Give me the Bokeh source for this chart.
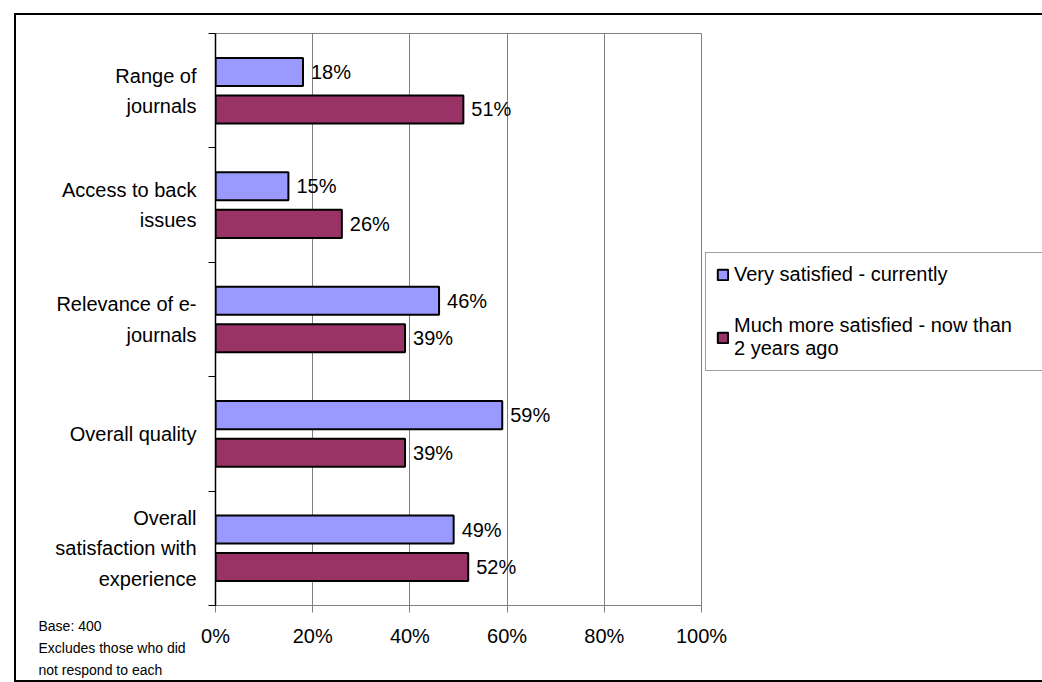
from bokeh.plotting import figure
from bokeh.models import (Range1d, FixedTicker, PrintfTickFormatter, ColumnDataSource,
                          LabelSet, Label, Legend, LegendItem)
from bokeh.core.properties import value
from bokeh.embed import file_html
from bokeh.resources import INLINE

# Survey data: share of respondents per aspect of e-journal provision
categories = [
    "Range of\njournals",
    "Access to back\nissues",
    "Relevance of e-\njournals",
    "Overall quality",
    "Overall\nsatisfaction with\nexperience",
]
very_satisfied = [18, 15, 46, 59, 49]
more_satisfied = [51, 26, 39, 39, 52]
x_ticks = [0, 20, 40, 60, 80, 100]
series_names = ["Very satisfied - currently",
                "Much more satisfied - now than\n2 years ago"]
footnote = ["Base: 400", "Excludes those who did", "not respond to each"]

FONT = "Liberation Sans"
BLUE = "#9999FF"
PLUM = "#993366"
GRID = "#808080"

n = len(categories)
centers = [n - i - 0.5 for i in range(n)]   # first category at the top
OFFSET = 0.164
BAR_H = 0.245

src_a = ColumnDataSource(dict(
    y=[c + OFFSET for c in centers], v=very_satisfied,
    t=[f"{v}%" for v in very_satisfied]))
src_b = ColumnDataSource(dict(
    y=[c - OFFSET for c in centers], v=more_satisfied,
    t=[f"{v}%" for v in more_satisfied]))

p = figure(frame_width=486, frame_height=572, output_backend="svg", toolbar_location=None,
           x_range=Range1d(0, 100), y_range=Range1d(0, n),
           min_border_left=199, min_border_right=0,
           min_border_top=18, min_border_bottom=75)
p.styles = {"margin-left": "14px", "margin-top": "13px",
            "border-left": "2px solid black", "border-top": "2px solid black",
            "border-bottom": "2px solid black"}
p.border_fill_color = "white"
p.background_fill_color = "white"
p.outline_line_color = GRID
p.outline_line_width = 1

r_a = p.hbar(y="y", left=0, right="v", height=BAR_H, source=src_a,
             fill_color=BLUE, line_color="black", line_width=2)
r_b = p.hbar(y="y", left=0, right="v", height=BAR_H, source=src_b,
             fill_color=PLUM, line_color="black", line_width=2)

for src in (src_a, src_b):
    p.add_layout(LabelSet(x="v", y="y", text="t", source=src, x_offset=8,
                          text_baseline="middle", text_align="left",
                          text_font=value(FONT), text_font_size="20px",
                          text_color="black"))

# grid
p.ygrid.grid_line_color = None
p.xgrid.grid_line_color = GRID
p.xgrid.grid_line_width = 1

# x axis
p.xaxis.ticker = FixedTicker(ticks=x_ticks)
p.xaxis.formatter = PrintfTickFormatter(format="%d%%")
p.xaxis.axis_line_color = GRID
p.xaxis.major_tick_line_color = GRID
p.xaxis.major_tick_out = 7
p.xaxis.major_tick_in = 0
p.xaxis.minor_tick_line_color = None
p.xaxis.major_label_standoff = 12
p.xaxis.major_label_text_font = FONT
p.xaxis.major_label_text_font_size = "20px"
p.xaxis.major_label_text_color = "black"

# y axis: labels at category centres, tick marks at category boundaries
p.yaxis.ticker = FixedTicker(ticks=centers, minor_ticks=list(range(n + 1)))
p.yaxis.major_label_overrides = {c: lab for c, lab in zip(centers, categories)}
p.yaxis.axis_line_color = "black"
p.yaxis.axis_line_width = 1.5
p.yaxis.major_tick_line_color = None
p.yaxis.major_tick_out = 0
p.yaxis.major_tick_in = 0
p.yaxis.minor_tick_line_color = "black"
p.yaxis.minor_tick_out = 7
p.yaxis.minor_tick_in = 0
p.yaxis.major_label_standoff = 12
p.yaxis.major_label_text_font = FONT
p.yaxis.major_label_text_font_size = "20px"
p.yaxis.major_label_text_color = "black"
p.yaxis.major_label_text_line_height = 1.38

legend = Legend(items=[LegendItem(label=series_names[0], renderers=[r_a]),
                       LegendItem(label=series_names[1], renderers=[r_b])],
                location=(4, 234), orientation="vertical",
                glyph_width=13, glyph_height=13, label_standoff=5,
                label_width=320,
                padding=10, spacing=28, margin=4,
                label_text_font=FONT, label_text_font_size="20px",
                label_text_color="black",
                border_line_color="#404040", border_line_width=1,
                background_fill_color="white", background_fill_alpha=1)
p.add_layout(legend, "right")

# footnote, placed in the side panel next to the legend and shifted to the far left
p.add_layout(Label(x=-1518, y=-12, x_units="screen", y_units="screen",
                   text="\n".join(footnote), text_font=FONT, text_font_size="14px",
                   text_line_height=1.38, text_baseline="top", text_align="left",
                   text_color="black"), "right")

html = file_html(p, INLINE)
html = html.replace("<body>", '<body style="margin:0;background:#c0c0c0;">', 1)
open("out.html", "w").write(html)
